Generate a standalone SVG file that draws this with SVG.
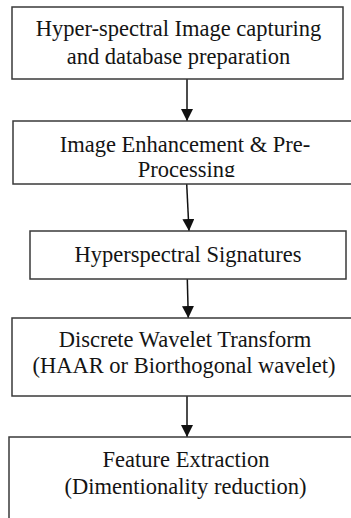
<svg xmlns="http://www.w3.org/2000/svg" width="351" height="518" viewBox="0 0 351 518">
<defs>
<style>
.box{fill:#fff;stroke:#3a3a3a;stroke-width:1.5}
.t{font-family:"Liberation Serif","Times New Roman",serif;font-size:22.5px;fill:#141414;text-anchor:middle}
.c{stroke:#111;stroke-width:1.5;fill:none}
</style>
<marker id="ah" viewBox="0 0 12 12" refX="12" refY="6" markerWidth="12" markerHeight="12" markerUnits="userSpaceOnUse" orient="auto">
<path d="M0,0 L12,6 L0,12 z" fill="#111"/>
</marker>
<clipPath id="clip2"><rect x="0" y="121" width="351" height="56"/></clipPath>
</defs>
<rect width="351" height="518" fill="#fff"/>
<g id="connectors">
<line class="c" x1="187" y1="79" x2="187" y2="121" marker-end="url(#ah)"/>
<line class="c" x1="186.7" y1="184" x2="189" y2="231" marker-end="url(#ah)"/>
<line class="c" x1="187.3" y1="279" x2="188.3" y2="318" marker-end="url(#ah)"/>
<line class="c" x1="187" y1="396" x2="187" y2="437" marker-end="url(#ah)"/>
</g>
<g id="n1">
<rect class="box" x="12" y="7" width="331" height="72"/>
<text class="t" x="178.5" y="36">Hyper-spectral Image capturing</text>
<text class="t" x="178.5" y="64">and database preparation</text>
</g>
<g id="n2">
<rect class="box" x="13" y="121" width="345" height="63"/>
<g clip-path="url(#clip2)">
<text class="t" x="185" y="152">Image Enhancement &amp; Pre-</text>
<text class="t" x="186.5" y="177">Processing</text>
</g>
</g>
<g id="n3">
<rect class="box" x="30" y="231" width="316" height="48"/>
<text class="t" x="188" y="262">Hyperspectral Signatures</text>
</g>
<g id="n4">
<rect class="box" x="12" y="318" width="345" height="78"/>
<text class="t" x="185" y="347">Discrete Wavelet Transform</text>
<text class="t" x="184" y="373">(HAAR or Biorthogonal wavelet)</text>
</g>
<g id="n5">
<rect class="box" x="9" y="437" width="350" height="90"/>
<text class="t" x="186" y="467">Feature Extraction</text>
<text class="t" x="185.5" y="494">(Dimentionality reduction)</text>
</g>
</svg>
